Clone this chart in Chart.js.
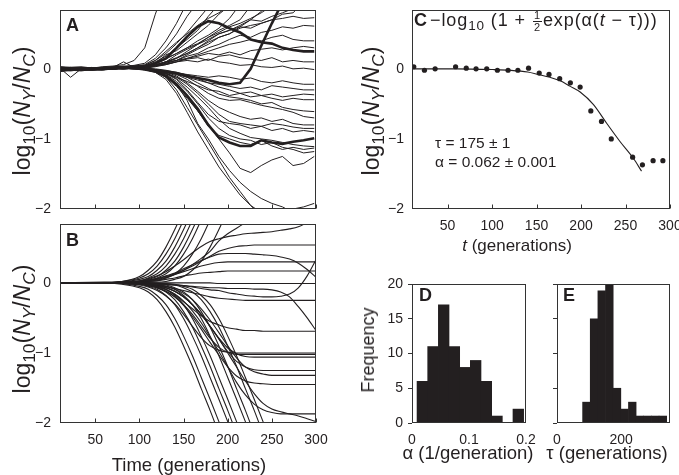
<!DOCTYPE html>
<html lang="en">
<head>
<meta charset="UTF-8">
<title>Relative abundance panels</title>
<script src="https://cdn.jsdelivr.net/npm/chart.js@4.4.1/dist/chart.umd.min.js"></script>
<style>
  body { margin: 0; background: #fff; }
  #fig { position: relative; width: 679px; height: 475px; overflow: hidden;
         font-family: "Liberation Sans", Arial, sans-serif; color: #231f20; }
  #fig canvas { position: absolute; }
  .txt { position: absolute; white-space: nowrap; line-height: 1; }
  .ytitle { transform: translate(-50%, -50%) rotate(-90deg); font-size: 18px; }
  .logt { font-size: 23px; }
  .xtitle { transform: translate(-50%, -50%); font-size: 18.5px; }
  .letter { font-weight: bold; font-size: 18px; }
  sub { font-size: 75%; line-height: 0; vertical-align: -0.3em; }
  .frac { display: inline-block; vertical-align: -0.42em; font-size: 11px; text-align: center; line-height: 1; margin: 0 1px; }
  .frac span { display: block; }
  .frac .num { border-bottom: 1px solid #231f20; padding: 0 1px; }
</style>
</head>
<body>
<div id="fig">
  <canvas id="chartA" width="340" height="222" style="left:0px;top:0px"></canvas>
  <canvas id="chartB" width="340" height="261" style="left:0px;top:214px"></canvas>
  <canvas id="chartC" width="345" height="245" style="left:340px;top:0px"></canvas>
  <canvas id="chartD" width="200" height="205" style="left:340px;top:270px"></canvas>
  <canvas id="chartE" width="145" height="205" style="left:540px;top:270px"></canvas>

  <div class="txt letter" style="left:66px;top:16px">A</div>
  <div class="txt letter" style="left:66px;top:231px">B</div>
  <div class="txt letter" style="left:414px;top:11px">C</div>
  <div class="txt letter" style="left:419px;top:286px">D</div>
  <div class="txt letter" style="left:563px;top:286px">E</div>

  <div class="txt ytitle logt" style="left:22px;top:111px">log<sub>10</sub>(<i>N</i><sub><i>Y</i></sub>/<i>N</i><sub><i>C</i></sub>)</div>
  <div class="txt ytitle logt" style="left:22px;top:329px">log<sub>10</sub>(<i>N</i><sub><i>Y</i></sub>/<i>N</i><sub><i>C</i></sub>)</div>
  <div class="txt ytitle logt" style="left:371px;top:111px">log<sub>10</sub>(<i>N</i><sub><i>Y</i></sub>/<i>N</i><sub><i>C</i></sub>)</div>
  <div class="txt ytitle" style="left:368px;top:350px">Frequency</div>

  <div class="txt xtitle" style="left:189px;top:465px">Time (generations)</div>
  <div class="txt xtitle" style="left:517px;top:245px;font-size:17px"><i>t</i> (generations)</div>
  <div class="txt xtitle" style="left:468px;top:453px">&alpha; (1/generation)</div>
  <div class="txt xtitle" style="left:607px;top:453px">&tau; (generations)</div>

  <div class="txt" style="left:430px;top:10px;font-size:18px;letter-spacing:0.9px">&minus;log<sub>10</sub> (1 + <span class="frac"><span class="num">1</span><span>2</span></span>exp(&alpha;(<i>t</i> &minus; &tau;)))</div>
  <div class="txt" style="left:435px;top:135px;font-size:15.5px">&tau; = 175 &plusmn; 1</div>
  <div class="txt" style="left:435px;top:154px;font-size:15.5px">&alpha; = 0.062 &plusmn; 0.001</div>
</div>
<script>
  const ink = '#231f20';

  // panel A: measured trajectories, sampled about every 12 generations
  const genA = [10, 22, 34, 46, 58, 70, 82, 94, 106, 118, 130, 142, 154, 166, 178, 190, 202, 214, 226, 238, 250, 262, 274, 286, 298];
  const linesA = [
    [0.02, 0.01, 0.02, 0.01, 0.03, 0.04, 0.06, 0.12, 0.3, 0.78, 1.2],
    [0.01, 0.02, 0, 0.02, 0.01, 0.02, 0.03, 0.05, 0.08, 0.2, 0.4, 0.65, 0.95],
    [0.03, 0.01, 0.02, 0, 0.02, 0.03, 0.02, 0.04, 0.06, 0.15, 0.3, 0.5, 0.75, 0.95],
    [0, 0.02, 0.01, 0.02, 0.01, 0.02, 0.03, 0.03, 0.05, 0.12, 0.22, 0.36, 0.52, 0.7, 0.88, 1.0],
    [0.01, 0, 0.01, 0.02, 0, 0.01, 0.02, 0.03, 0.04, 0.1, 0.18, 0.3, 0.42, 0.55, 0.75, 0.92],
    [-0.01, 0, 0.01, 0, 0.01, 0.02, 0.03, 0.04, 0.03, 0.08, 0.2, 0.26, 0.38, 0.5, 0.62, 0.78, 0.9],
    [0.02, 0, 0, 0.01, 0.02, 0.01, 0.02, 0.03, 0.03, 0.07, 0.14, 0.22, 0.3, 0.4, 0.48, 0.58, 0.72, 0.92],
    [0, -0.01, 0.01, 0, 0.01, 0.02, 0.01, 0.02, 0.02, 0.06, 0.1, 0.2, 0.28, 0.35, 0.45, 0.55, 0.62, 0.7, 0.9],
    [0.01, 0, -0.01, 0.01, 0, 0.01, 0.02, 0.02, 0.02, 0.05, 0.1, 0.15, 0.22, 0.3, 0.4, 0.5, 0.55, 0.6, 0.7, 0.82, 0.95],
    [0, 0.01, 0, 0, 0.01, 0, 0.01, 0.02, 0.02, 0.04, 0.08, 0.12, 0.2, 0.28, 0.35, 0.45, 0.5, 0.6, 0.58, 0.65, 0.7, 0.78, 0.8, 0.95],
    [-0.01, 0, 0.01, 0, 0, 0.01, 0.02, 0.01, 0.02, 0.05, 0.09, 0.15, 0.25, 0.35, 0.42, 0.5, 0.55, 0.62, 0.7, 0.68, 0.75, 0.8, 0.86],
    [0, 0, 0.01, -0.01, 0, 0.01, 0, 0.02, 0.02, 0.05, 0.1, 0.16, 0.22, 0.3, 0.38, 0.45, 0.5, 0.58, 0.62, 0.65, 0.7, 0.72, 0.75, 0.72, 0.73],
    [0.01, -0.01, 0, 0, 0, 0, 0.01, 0.02, 0.01, 0.04, 0.08, 0.12, 0.18, 0.22, 0.3, 0.35, 0.42, 0.48, 0.45, 0.52, 0.55, 0.6, 0.58, 0.62, 0.61],
    [0, 0, -0.01, 0, 0.01, 0, 0.01, 0.01, 0.01, 0.03, 0.06, 0.1, 0.15, 0.2, 0.25, 0.3, 0.35, 0.38, 0.42, 0.4, 0.45, 0.48, 0.42, 0.4, 0.4],
    [0.01, 0.02, 0, 0.01, 0.02, 0.02, 0.03, 0.04, 0.05, 0.12, 0.25, 0.38, 0.5, 0.62, 0.72, 0.8, 0.9],
    [0, 0.01, 0, 0, 0.01, 0.01, 0.02, 0.03, 0.04, 0.08, 0.15, 0.22, 0.3, 0.36, 0.45, 0.52, 0.6, 0.65, 0.72, 0.8, 0.9],
    [0, 0, -0.01, 0, 0, 0.01, 0.01, 0.02, 0.02, 0.04, 0.06, 0.1, 0.12, 0.1, 0.14, 0.1, 0.08, 0.05, 0.06, 0.03, 0.02, 0.04, 0, 0.01, -0.01],
    [-0.02, -0.01, 0, -0.01, 0, 0, 0.01, 0, 0, -0.02, -0.04, -0.06, -0.08, -0.1, -0.12, -0.1, -0.12, -0.15, -0.13, -0.18, -0.2, -0.17, -0.2, -0.22, -0.22],
    [-0.03, -0.02, -0.01, -0.02, 0, 0, 0, 0.01, 0, -0.02, -0.05, -0.08, -0.12, -0.16, -0.2, -0.22, -0.25, -0.28, -0.26, -0.3, -0.24, -0.26, -0.28, -0.3, -0.3],
    [-0.02, 0, -0.01, 0, -0.01, 0, 0.01, 0, -0.01, -0.03, -0.07, -0.12, -0.18, -0.24, -0.3, -0.32, -0.38, -0.35, -0.4, -0.38, -0.42, -0.45, -0.42, -0.44, -0.44],
    [0.01, 0, 0.01, 0, 0, 0.01, 0.02, 0.02, 0.03, 0.06, 0.1, 0.12, 0.15, 0.18, 0.22, 0.2, 0.24, 0.2, 0.26, 0.28, 0.3, 0.27, 0.3, 0.32, 0.3],
    [0, 0.01, 0, 0, 0.01, 0.01, 0.02, 0.01, 0.02, 0.04, 0.07, 0.1, 0.14, 0.16, 0.12, 0.18, 0.2, 0.16, 0.14, 0.12, 0.16, 0.1, 0.12, 0.1, 0.1],
    [-0.02, -0.01, 0, -0.01, 0, 0.01, 0.02, 0.01, -0.01, -0.04, -0.1, -0.22, -0.45, -0.78, -1.0, -1.25, -1.45, -1.62, -1.75, -1.85, -1.92, -1.97, -2.05, -2.1, -2.05],
    [-0.03, -0.02, -0.01, 0, -0.01, 0, 0.01, 0, -0.02, -0.05, -0.12, -0.3, -0.55, -0.8, -1.05, -1.3, -1.55, -1.75, -1.95, -2.1, -2.15, -2.1, -2.0, -1.97, -1.92],
    [-0.01, -0.02, 0, -0.01, 0, 0, 0.01, 0.01, -0.01, -0.04, -0.12, -0.25, -0.42, -0.6, -0.8, -1.0, -1.2, -1.42, -1.48, -1.38, -1.3, -1.25, -1.38, -1.35, -1.25],
    [-0.04, -0.02, -0.03, -0.01, -0.02, 0, 0.01, 0.01, 0, -0.03, -0.1, -0.22, -0.4, -0.6, -0.82, -0.95, -1.0, -1.05, -1.08, -1.02, -1.1, -1.15, -1.12, -1.15, -1.13],
    [-0.02, -0.03, -0.01, -0.02, 0, 0.01, 0.03, 0.02, 0, -0.03, -0.08, -0.18, -0.32, -0.5, -0.7, -0.85, -0.95, -1.0, -1.02, -1.08, -1.05, -1.12, -1.15, -1.2, -1.18],
    [0, -0.01, 0, -0.02, -0.01, 0, 0.01, 0, -0.01, -0.02, -0.06, -0.14, -0.26, -0.4, -0.55, -0.72, -0.85, -0.92, -0.98, -1.0, -1.02, -1.05, -1.08, -1.1, -1.11],
    [-0.01, 0, -0.01, 0, 0, 0.01, 0, 0.01, 0, -0.02, -0.06, -0.12, -0.22, -0.35, -0.5, -0.65, -0.75, -0.78, -0.8, -0.82, -0.78, -0.8, -0.83, -0.85, -0.85],
    [0.01, 0, 0, -0.01, 0, 0, 0.01, 0, 0, -0.02, -0.05, -0.1, -0.2, -0.32, -0.45, -0.55, -0.62, -0.68, -0.72, -0.7, -0.75, -0.72, -0.78, -0.8, -0.8],
    [-0.02, -0.01, -0.02, 0, -0.01, 0, 0, 0.01, -0.01, -0.03, -0.07, -0.15, -0.3, -0.48, -0.65, -0.75, -0.78, -0.8, -0.85, -0.82, -0.88, -0.85, -0.9, -0.88, -0.9],
    [0, -0.01, 0, 0, -0.01, 0, 0.01, 0.01, 0, -0.01, -0.04, -0.08, -0.15, -0.25, -0.35, -0.42, -0.45, -0.44, -0.48, -0.52, -0.55, -0.58, -0.62, -0.68, -0.7],
    [-0.01, 0, 0, -0.01, 0, 0.01, 0, 0, 0, -0.01, -0.03, -0.06, -0.12, -0.2, -0.28, -0.36, -0.4, -0.42, -0.45, -0.5, -0.48, -0.55, -0.58, -0.6, -0.61],
    [-0.01, -0.02, 0, 0, -0.01, 0, 0, 0.01, -0.01, -0.05, -0.15, -0.35, -0.62, -0.9, -1.15, -1.4, -1.6, -1.8, -1.95, -2.05, -2.1],
    [0.01, -0.12, 0, -0.01, 0, 0.02, 0.1, 0.02, 0.01, 0, -0.02, -0.05, -0.09, -0.14, -0.2, -0.26, -0.3, -0.35, -0.33, -0.38, -0.36, -0.4, -0.38, -0.36, -0.37]
  ];
  const thickA = [
    [0.02, 0.01, 0.02, 0, 0.01, 0.02, 0.03, 0.03, 0.03, 0.08, 0.15, 0.3, 0.46, 0.6, 0.68, 0.65, 0.58, 0.52, 0.42, 0.38, 0.36, 0.3, 0.27, 0.25, 0.25],
    [-0.02, 0, -0.01, 0, 0, 0.01, 0.02, 0.02, 0, -0.02, -0.04, -0.06, -0.1, -0.13, -0.16, -0.2, -0.22, -0.2, 0, 0.33, 0.65, 0.95],
    [0, 0, -0.01, 0, 0, 0.01, 0.02, 0.02, 0, -0.03, -0.1, -0.22, -0.38, -0.57, -0.8, -0.98, -1.05, -1.1, -1.1, -1.02, -1.05, -1.07, -1.04, -1.02, -0.99]
  ];

  // panel B: fitted trajectories
  const genB = [10, 60, 80, 100, 110, 120, 130, 140, 150, 160, 170, 180, 190, 200, 210, 220, 230, 240, 250, 260, 270, 280, 290, 300];
  const linesB = [
    [0, 0, -0.02, -0.07, -0.13, -0.24, -0.41, -0.63, -0.9, -1.19, -1.51, -1.82, -2.15, -2.47],
    [0, 0, -0.01, -0.05, -0.09, -0.18, -0.31, -0.51, -0.76, -1.04, -1.35, -1.66, -1.98, -2.31, -2.63],
    [0, 0, -0.01, -0.02, -0.05, -0.09, -0.18, -0.31, -0.51, -0.76, -1.04, -1.35, -1.66, -1.98, -2.31, -2.63],
    [0, 0, 0, -0.02, -0.03, -0.07, -0.13, -0.24, -0.41, -0.63, -0.9, -1.19, -1.51, -1.82, -2.15, -2.47],
    [0, 0, 0, -0.01, -0.02, -0.05, -0.09, -0.18, -0.31, -0.51, -0.76, -1.04, -1.35, -1.66, -1.98, -2.31, -2.63],
    [0, 0, 0, -0.01, -0.01, -0.02, -0.05, -0.09, -0.18, -0.31, -0.51, -0.76, -1.04, -1.35, -1.66, -1.98, -2.31, -2.63],
    [0, 0, 0, 0, -0.01, -0.02, -0.03, -0.07, -0.13, -0.24, -0.41, -0.63, -0.9, -1.19, -1.51, -1.82, -2.15, -2.47],
    [0, 0, 0, 0, 0, -0.01, -0.02, -0.03, -0.07, -0.13, -0.24, -0.41, -0.63, -0.9, -1.19, -1.51, -1.82, -2.15, -2.47],
    [0, 0, 0, 0, 0, -0.01, -0.01, -0.02, -0.05, -0.09, -0.18, -0.31, -0.51, -0.76, -1.04, -1.35, -1.66, -1.98, -2.31],
    [0, 0.01, 0.02, 0.09, 0.18, 0.31, 0.51, 0.76, 1.04],
    [0, 0, 0.02, 0.07, 0.13, 0.24, 0.41, 0.63, 0.9, 1.19],
    [0, 0, 0.01, 0.05, 0.09, 0.18, 0.31, 0.51, 0.76, 1.04],
    [0, 0, 0.01, 0.03, 0.07, 0.13, 0.24, 0.41, 0.63, 0.9, 1.19],
    [0, 0, 0.01, 0.02, 0.05, 0.09, 0.18, 0.31, 0.51, 0.76, 1.04],
    [0, 0, 0, 0.02, 0.03, 0.07, 0.13, 0.24, 0.41, 0.63, 0.9, 1.19],
    [0, 0, 0, 0.01, 0.02, 0.03, 0.07, 0.13, 0.24, 0.41, 0.63, 0.9, 1.19],
    [0, 0, 0, 0, 0.01, 0.01, 0.02, 0.05, 0.09, 0.18, 0.31, 0.51, 0.76, 1.04],
    [0, 0, 0, 0.01, 0.02, 0.04, 0.07, 0.12, 0.18, 0.26, 0.35, 0.45, 0.6, 0.7, 0.78, 0.86],
    [0, 0, 0.01, 0.03, 0.06, 0.1, 0.16, 0.24, 0.33, 0.43, 0.52, 0.59, 0.63, 0.66, 0.68, 0.7, 0.71, 0.72, 0.73, 0.75, 0.77, 0.8, 0.86],
    [0, 0, 0.01, 0.02, 0.04, 0.06, 0.09, 0.13, 0.18, 0.24, 0.31, 0.38, 0.45, 0.49, 0.52, 0.53, 0.54, 0.54, 0.54, 0.54, 0.54, 0.54, 0.54, 0.54],
    [0, 0, 0.01, 0.02, 0.04, 0.06, 0.1, 0.14, 0.2, 0.26, 0.32, 0.37, 0.41, 0.42, 0.42, 0.42, 0.41, 0.4, 0.39, 0.37, 0.34, 0.28, 0.19, 0.08],
    [0, 0, 0, 0.02, 0.03, 0.05, 0.08, 0.12, 0.16, 0.2, 0.24, 0.27, 0.29, 0.3, 0.3, 0.3, 0.3, 0.3, 0.3, 0.3, 0.3, 0.3, 0.3, 0.3],
    [0, 0, 0, 0.01, 0.02, 0.03, 0.05, 0.07, 0.1, 0.12, 0.14, 0.15, 0.16, 0.17, 0.17, 0.17, 0.17, 0.17, 0.17, 0.17, 0.17, 0.17, 0.17, 0.17],
    [0, 0, 0, 0, 0, 0, 0, 0, 0, 0, 0, 0, -0.01, -0.01, -0.01, -0.01, -0.01, -0.01, -0.01, -0.01, -0.01, -0.01, -0.01, -0.01],
    [0, 0, 0, 0, -0.01, -0.01, -0.02, -0.03, -0.04, -0.06, -0.08, -0.1, -0.11, -0.14, -0.16, -0.18, -0.19, -0.2, -0.2, -0.19, -0.16, -0.07, 0.1, 0.33],
    [0, 0, 0, -0.01, -0.02, -0.03, -0.05, -0.08, -0.11, -0.14, -0.17, -0.2, -0.22, -0.23, -0.24, -0.25, -0.25, -0.25, -0.25, -0.25, -0.25, -0.25, -0.25, -0.25],
    [0, 0, 0, 0, -0.01, -0.01, -0.02, -0.03, -0.04, -0.05, -0.06, -0.07, -0.07, -0.08, -0.08, -0.08, -0.09, -0.09, -0.1, -0.13, -0.2, -0.34, -0.5, -0.68],
    [0, 0, 0, -0.01, -0.03, -0.06, -0.1, -0.17, -0.27, -0.37, -0.47, -0.55, -0.6, -0.64, -0.66, -0.68, -0.68, -0.69, -0.69, -0.69, -0.69, -0.69, -0.69, -0.69],
    [0, 0, -0.01, -0.03, -0.06, -0.11, -0.19, -0.3, -0.45, -0.62, -0.78, -0.9, -0.96, -0.99, -1.0, -1.0, -1.0, -1.0, -1.0, -1.0, -1.0, -1.0, -1.0, -1.0],
    [0, 0, 0, -0.02, -0.04, -0.07, -0.12, -0.2, -0.31, -0.45, -0.62, -0.79, -0.92, -0.99, -1.02, -1.02, -1.02, -1.02, -1.02, -1.02, -1.02, -1.02, -1.02, -1.02],
    [0, 0, 0, -0.01, -0.02, -0.04, -0.07, -0.12, -0.2, -0.31, -0.45, -0.62, -0.79, -0.93, -1.01, -1.05, -1.06, -1.06, -1.06, -1.06, -1.06, -1.06, -1.06, -1.06],
    [0, 0, 0, -0.01, -0.02, -0.04, -0.07, -0.12, -0.2, -0.31, -0.45, -0.62, -0.8, -0.98, -1.12, -1.2, -1.24, -1.25, -1.25, -1.25, -1.25, -1.25, -1.25, -1.25],
    [0, 0, 0, -0.01, -0.02, -0.03, -0.05, -0.09, -0.15, -0.24, -0.37, -0.53, -0.71, -0.9, -1.07, -1.2, -1.27, -1.3, -1.32, -1.32, -1.32, -1.32, -1.32, -1.32],
    [0, 0, -0.01, -0.02, -0.04, -0.07, -0.12, -0.2, -0.32, -0.48, -0.66, -0.85, -1.03, -1.2, -1.33, -1.4, -1.43, -1.44, -1.45, -1.45, -1.45, -1.45, -1.45, -1.45],
    [0, 0, 0, -0.01, -0.03, -0.05, -0.09, -0.16, -0.26, -0.4, -0.57, -0.77, -0.98, -1.2, -1.42, -1.6, -1.73, -1.81, -1.85, -1.87, -1.87, -1.87, -1.87, -1.87],
    [0, 0, 0, -0.01, -0.02, -0.04, -0.07, -0.12, -0.2, -0.31, -0.45, -0.62, -0.8, -1.0, -1.2, -1.4, -1.58, -1.72, -1.8, -1.84, -1.87, -1.9, -1.94, -1.98]
  ];

  // panel C: one trajectory and its fit
  const genC = [12, 24, 36, 59, 71, 82, 94, 106, 118, 129, 141, 153, 164, 176, 188, 199, 211, 223, 234, 258, 269, 281, 292];
  const valC = [0.03, -0.02, 0, 0.03, 0.01, 0, 0, -0.02, -0.02, -0.02, 0.01, -0.06, -0.08, -0.14, -0.2, -0.26, -0.6, -0.75, -1.0, -1.26, -1.37, -1.31, -1.31];
  const fitGenC = [10, 60, 100, 120, 140, 152, 165, 176, 188, 199, 214, 229, 244, 259, 268];
  const fitValC = [0, 0, -0.01, -0.02, -0.045, -0.08, -0.12, -0.167, -0.25, -0.33, -0.51, -0.78, -1.04, -1.28, -1.46];

  // panels D and E: histograms of fitted alpha and tau
  const binD = [0.0182, 0.0369, 0.0556, 0.0743, 0.093, 0.1117, 0.1304, 0.1491, 0.1678, 0.1865];
  const countD = [6, 11, 17, 11, 8, 9, 6, 1, 0, 2];
  const binE = [91.7, 115.5, 139.3, 163.1, 186.9, 210.7, 234.5, 258.3, 282.1, 305.9, 329.7];
  const countE = [3, 15, 19, 20, 5, 2, 3, 1, 1, 1, 1];

  const tickFont = { family: '"Liberation Sans", Arial, sans-serif', size: 14 };

  function fmt(v) {
    return v < 0 ? '\u2212' + Math.abs(v) : String(v);
  }

  // frame round the plot area, optional inward ticks on the x axis
  const framePlugin = {
    id: 'frame',
    afterDatasetsDraw(chart, args, opts) {
      const { ctx, chartArea: a } = chart;
      ctx.save();
      ctx.strokeStyle = '#333';
      ctx.lineWidth = 1;
      const l = Math.round(a.left) + 0.5, t = Math.round(a.top) + 0.5;
      const r = Math.round(a.right) - 0.5, b = Math.round(a.bottom) - 0.5;
      ctx.strokeRect(l, t, r - l, b - t);
      if (opts.inTicks) {
        const xs = chart.scales.x;
        ctx.beginPath();
        xs.ticks.forEach(tk => {
          const px = Math.round(xs.getPixelForValue(tk.value)) + 0.5;
          ctx.moveTo(px, b);
          ctx.lineTo(px, b - 4);
        });
        ctx.stroke();
      }
      ctx.restore();
    }
  };

  function axis(o) {
    return {
      type: 'linear',
      min: o.min,
      max: o.max,
      offset: false,
      afterFit: s => {
        if (o.w !== undefined) s.width = o.w;
        if (o.h !== undefined) s.height = o.h;
        // keep the plot area where the layout padding puts it
        s.paddingTop = 0;
        s.paddingBottom = 0;
        s.paddingLeft = 0;
        s.paddingRight = 0;
      },
      afterBuildTicks: s => { s.ticks = o.ticks.map(v => ({ value: v })); },
      ticks: {
        display: o.labels !== false,
        padding: o.pad === undefined ? 9 : o.pad,
        color: ink,
        font: tickFont,
        maxRotation: 0,
        autoSkip: false,
        callback: v => fmt(v)
      },
      grid: { display: !!o.out, drawOnChartArea: false, drawTicks: !!o.out, tickLength: 4, color: '#333', offset: false },
      border: { display: false }
    };
  }

  function baseOptions(pad, scales, inTicks) {
    return {
      responsive: false,
      animation: false,
      events: [],
      layout: { padding: pad },
      plugins: { legend: { display: false }, tooltip: { enabled: false }, frame: { inTicks: inTicks } },
      scales: scales
    };
  }

  function lineSet(xs, ys, w, smooth) {
    return {
      data: ys.map((y, i) => ({ x: xs[i], y: y })),
      borderColor: ink,
      borderWidth: w,
      pointRadius: 0,
      fill: false,
      tension: 0,
      cubicInterpolationMode: smooth ? 'monotone' : 'default'
    };
  }

  const genTicks = [50, 100, 150, 200, 250, 300];

  // A
  new Chart(document.getElementById('chartA'), {
    type: 'line',
    data: {
      datasets: linesA.map(ys => lineSet(genA, ys, 1, false))
        .concat(thickA.map(ys => lineSet(genA, ys, 2.6, false)))
    },
    options: baseOptions({ left: 0, top: 10, right: 24, bottom: 9 }, {
      x: axis({ min: 10, max: 300, ticks: genTicks, labels: false, h: 4 }),
      y: axis({ min: -2, max: 0.84, ticks: [-2, -1, 0], w: 60 })
    }, true),
    plugins: [framePlugin]
  });

  // B
  new Chart(document.getElementById('chartB'), {
    type: 'line',
    data: { datasets: linesB.map(ys => lineSet(genB, ys, 1.1, true)) },
    options: baseOptions({ left: 0, top: 10, right: 24, bottom: 22 }, {
      x: axis({ min: 10, max: 300, ticks: genTicks, h: 30 }),
      y: axis({ min: -2, max: 0.84, ticks: [-2, -1, 0], w: 60 })
    }, true),
    plugins: [framePlugin]
  });

  // C
  new Chart(document.getElementById('chartC'), {
    type: 'line',
    data: {
      datasets: [
        lineSet(fitGenC, fitValC, 1.1, true),
        {
          data: genC.map((x, i) => ({ x: x, y: valC[i] })),
          showLine: false,
          pointRadius: 2.6,
          pointBackgroundColor: ink,
          pointBorderWidth: 0,
          borderColor: ink
        }
      ]
    },
    options: baseOptions({ left: 0, top: 10, right: 15, bottom: 6 }, {
      x: axis({ min: 10, max: 300, ticks: genTicks, h: 30 }),
      y: axis({ min: -2, max: 0.84, ticks: [-2, -1, 0], w: 72, pad: 8 })
    }, true),
    plugins: [framePlugin]
  });

  function histSet(xs, ys) {
    return {
      data: xs.map((x, i) => ({ x: x, y: ys[i] })),
      backgroundColor: ink,
      borderWidth: 0,
      barPercentage: 1,
      categoryPercentage: 1
    };
  }

  // D
  new Chart(document.getElementById('chartD'), {
    type: 'bar',
    data: { datasets: [histSet(binD, countD)] },
    options: baseOptions({ left: 0, top: 14, right: 14, bottom: 22 }, {
      x: axis({ min: 0, max: 0.2, ticks: [0, 0.1, 0.2], h: 30 }),
      y: axis({ min: 0, max: 20, ticks: [0, 5, 10, 15, 20], w: 72, out: true, pad: 5 })
    }, false),
    plugins: [framePlugin]
  });

  // E
  new Chart(document.getElementById('chartE'), {
    type: 'bar',
    data: { datasets: [histSet(binE, countE)] },
    options: baseOptions({ left: 0, top: 14, right: 15, bottom: 22 }, {
      x: axis({ min: 0, max: 352, ticks: [0, 200], h: 30 }),
      y: axis({ min: 0, max: 20, ticks: [0, 5, 10, 15, 20], w: 17, out: true, labels: false })
    }, false),
    plugins: [framePlugin]
  });
</script>
</body>
</html>
